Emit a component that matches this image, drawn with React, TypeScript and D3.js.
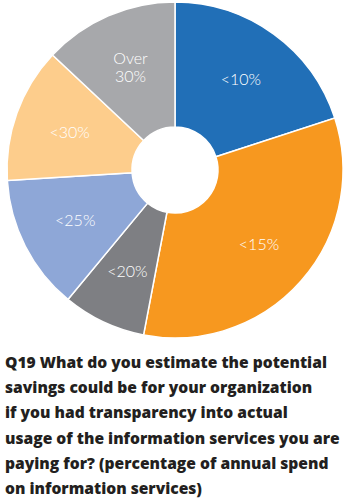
import React from "react";
import * as d3 from "d3";

const categories = ["<10%", "<15%", "<20%", "<25%", "<30%", "Over 30%"];
const values = [20, 33, 8, 13, 13, 13];
const colors = ["#216FB7", "#F7981F", "#7E7F83", "#8EA7D7", "#FDCD8C", "#A7A8AB"];
const titleLines = [
  "Q19 What do you estimate the potential",
  "savings could be for your organization",
  "if you had transparency into actual",
  "usage of the information services you are",
  "paying for? (percentage of annual spend",
  "on information services)",
];

export default function App() {
  const W = 350, H = 498;
  const cx = 175, cy = 170, rOuter = 168, rInner = 43, rLabel = 112;
  const pie = d3.pie<number>().sort(null).value((d) => d)(values);
  const arc = d3.arc<d3.PieArcDatum<number>>().innerRadius(rInner).outerRadius(rOuter);
  const labelArc = d3.arc<d3.PieArcDatum<number>>().innerRadius(rLabel).outerRadius(rLabel);
  const fs = 16;
  return (
    <svg width={W} height={H} style={{ position: "absolute", left: 0, top: 0, background: "#fff" }}>
      <g transform={`translate(${cx},${cy})`}>
        {pie.map((p, i) => (
          <path key={i} d={arc(p) || ""} fill={colors[i]} stroke="#fff" strokeWidth={1.5} />
        ))}
        {pie.map((p, i) => {
          const [x, y] = labelArc.centroid(p);
          const words = categories[i].startsWith("Over") ? ["Over", "30%"] : [categories[i]];
          if (words.length === 1) {
            return (
              <text key={i} x={x} y={y} dy="0.35em" textAnchor="middle" fill="#fff" fontFamily="Lato" fontWeight={300} fontSize={fs}>
                {words[0]}
              </text>
            );
          }
          return (
            <g key={i}>
              {words.map((w, j) => (
                <text key={j} x={x} y={y + (j - 0.5) * 17.5} dy="0.35em" textAnchor="middle" fill="#fff" fontFamily="Lato" fontWeight={300} fontSize={fs}>
                  {w}
                </text>
              ))}
            </g>
          );
        })}
      </g>
      {titleLines.map((t, i) => (
        <text key={i} x={5} y={368 + i * 25.2} fill="#231F20" fontFamily="Open Sans" fontWeight={800} fontSize={15.6}>
          {t}
        </text>
      ))}
    </svg>
  );
}
